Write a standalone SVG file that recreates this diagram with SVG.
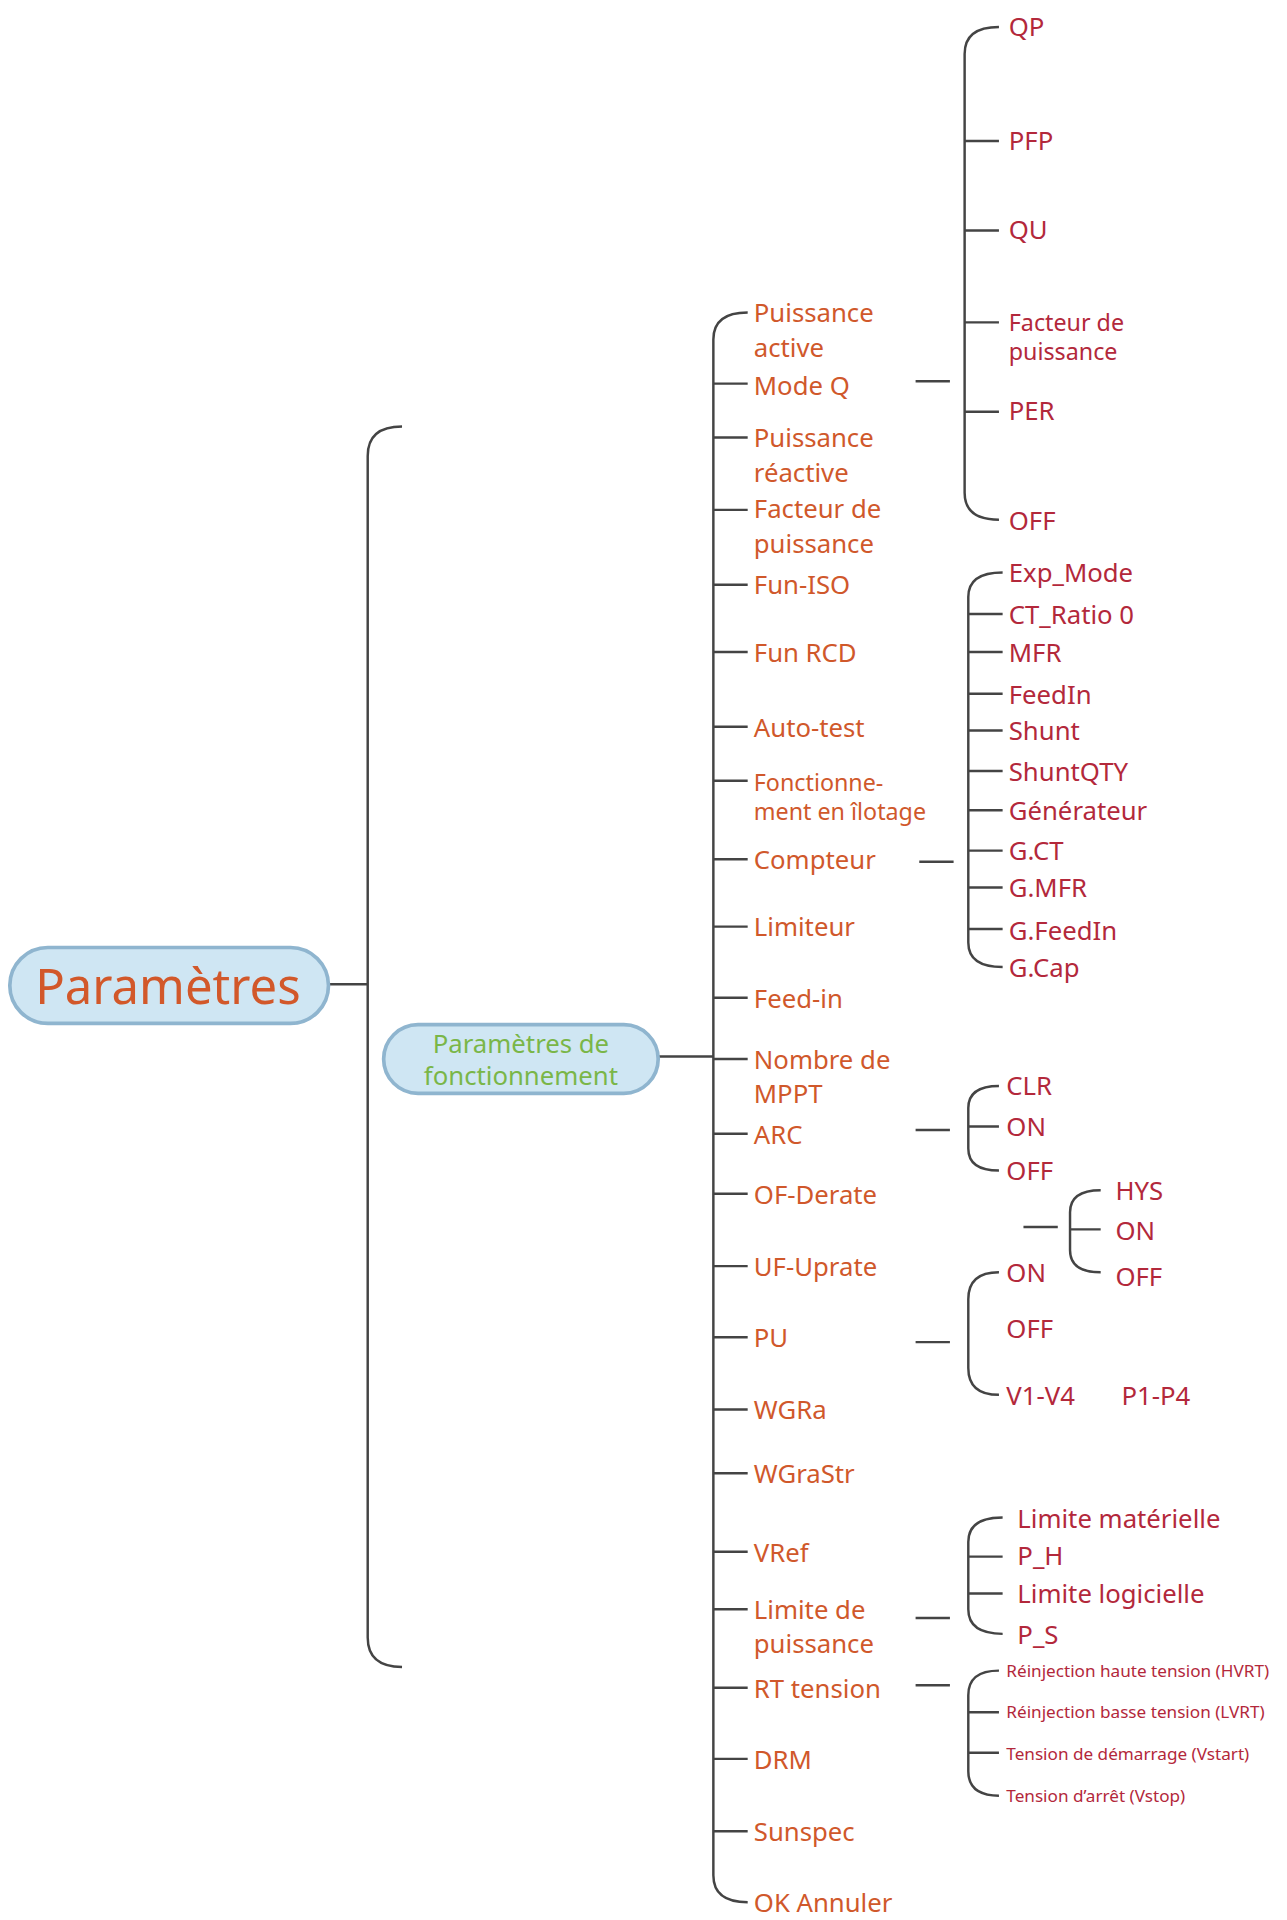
<svg xmlns="http://www.w3.org/2000/svg" width="1287" height="1920" viewBox="0 0 1287 1920">
<style>
.l{fill:none;stroke:#444;stroke-width:2}
.a{font-family:"Noto Sans",sans-serif;font-size:21px;fill:#d0582b}
.b{font-family:"Noto Sans",sans-serif;font-size:21px;fill:#b3283b}
.t{font-size:19px}
.s{font-family:"Noto Sans",sans-serif;font-size:14px;fill:#b3283b}
</style>
<rect width="1287" height="1920" fill="#fff"/>
<g transform="scale(1.2257)">
<g id="connectors">
<path class="l" d="M268 803H300M328 348Q300 348 300 372V1336Q300 1360 328 1360"/>
<path class="l" d="M537 862H582M610 255Q582 255 582 277V1530Q582 1552 610 1552"/>
<path class="l" d="M582 313H610M582 357H610M582 416H610M582 477H610M582 532H610M582 593H610M582 637H610M582 701H610M582 756H610M582 814H610M582 864H610M582 925H610M582 974H610M582 1033H610M582 1091H610M582 1150H610M582 1202H610M582 1266H610M582 1313H610M582 1377H610M582 1435H610M582 1494H610"/>
<path class="l" d="M747 311H775M815 22Q787 22 787 44V402Q787 424 815 424M787 115H815M787 188H815M787 263H815M787 336H815"/>
<path class="l" d="M750 703H778M818 467Q790 467 790 487V769Q790 789 818 789M790 501H818M790 532H818M790 566H818M790 596H818M790 629H818M790 661H818M790 694H818M790 724H818M790 758H818"/>
<path class="l" d="M747 922H775M815 886Q790 886 790 904V937Q790 955 815 955M790 919H815"/>
<path class="l" d="M835 1001H863M898 971Q873 971 873 989V1020Q873 1038 898 1038M873 1003H898"/>
<path class="l" d="M747 1095H775M815 1038Q790 1038 790 1060V1116Q790 1138 815 1138"/>
<path class="l" d="M747 1320H775M818 1238Q790 1238 790 1258V1313Q790 1333 818 1333M790 1270H818M790 1300H818"/>
<path class="l" d="M747 1375H775M815 1363Q790 1363 790 1383V1445Q790 1465 815 1465M790 1397H815M790 1430H815"/>
</g>
<g id="root"><rect x="8" y="773" width="260" height="62" rx="31" fill="#cfe6f3" stroke="#8fb5cf" stroke-width="3"/><text x="137" y="819" text-anchor="middle" font-family="Noto Sans,sans-serif" font-size="40" fill="#d2582a">Paramètres</text></g>
<g id="fonct"><rect x="313" y="836" width="224" height="56" rx="28" fill="#cfe6f3" stroke="#8fb5cf" stroke-width="3"/><text x="425" y="859" text-anchor="middle" font-family="Noto Sans,sans-serif" font-size="21" fill="#7ab648">Paramètres de</text><text x="425" y="885" text-anchor="middle" font-family="Noto Sans,sans-serif" font-size="21" fill="#7ab648">fonctionnement</text></g>
<g id="items">
<text class="a" x="615" y="263">Puissance</text><text class="a" x="615" y="291">active</text>
<text class="a" x="615" y="322">Mode Q</text>
<text class="a" x="615" y="365">Puissance</text><text class="a" x="615" y="393">réactive</text>
<text class="a" x="615" y="423">Facteur de</text><text class="a" x="615" y="451">puissance</text>
<text class="a" x="615" y="485">Fun-ISO</text>
<text class="a" x="615" y="540">Fun RCD</text>
<text class="a" x="615" y="601">Auto-test</text>
<text class="a t" x="615" y="645">Fonctionne-</text><text class="a t" x="615" y="669">ment en îlotage</text>
<text class="a" x="615" y="709">Compteur</text>
<text class="a" x="615" y="764">Limiteur</text>
<text class="a" x="615" y="822">Feed-in</text>
<text class="a" x="615" y="872">Nombre de</text><text class="a" x="615" y="900">MPPT</text>
<text class="a" x="615" y="933">ARC</text>
<text class="a" x="615" y="982">OF-Derate</text>
<text class="a" x="615" y="1041">UF-Uprate</text>
<text class="a" x="615" y="1099">PU</text>
<text class="a" x="615" y="1158">WGRa</text>
<text class="a" x="615" y="1210">WGraStr</text>
<text class="a" x="615" y="1274">VRef</text>
<text class="a" x="615" y="1321">Limite de</text><text class="a" x="615" y="1349">puissance</text>
<text class="a" x="615" y="1385">RT tension</text>
<text class="a" x="615" y="1443">DRM</text>
<text class="a" x="615" y="1502">Sunspec</text>
<text class="a" x="615" y="1560">OK Annuler</text>
</g>
<g id="modeq">
<text class="b" x="823" y="29">QP</text><text class="b" x="823" y="122">PFP</text><text class="b" x="823" y="195">QU</text>
<text class="b t" x="823" y="270">Facteur de</text><text class="b t" x="823" y="294">puissance</text><text class="b" x="823" y="343">PER</text><text class="b" x="823" y="432">OFF</text>
</g>
<g id="compteur">
<text class="b" x="823" y="475">Exp_Mode</text><text class="b" x="823" y="509">CT_Ratio 0</text><text class="b" x="823" y="540">MFR</text><text class="b" x="823" y="574">FeedIn</text><text class="b" x="823" y="604">Shunt</text><text class="b" x="823" y="637">ShuntQTY</text><text class="b" x="823" y="669">Générateur</text><text class="b" x="823" y="702">G.CT</text><text class="b" x="823" y="732">G.MFR</text><text class="b" x="823" y="767">G.FeedIn</text><text class="b" x="823" y="797">G.Cap</text>
</g>
<g id="arc"><text class="b" x="821" y="893">CLR</text><text class="b" x="821" y="927">ON</text><text class="b" x="821" y="963">OFF</text></g>
<g id="ofderate"><text class="b" x="910" y="979">HYS</text><text class="b" x="910" y="1012">ON</text><text class="b" x="910" y="1049">OFF</text></g>
<g id="pu"><text class="b" x="821" y="1046">ON</text><text class="b" x="821" y="1092">OFF</text><text class="b" x="821" y="1146">V1-V4</text><text class="b" x="915" y="1146">P1-P4</text></g>
<g id="limite"><text class="b" x="830" y="1247">Limite matérielle</text><text class="b" x="830" y="1277">P_H</text><text class="b" x="830" y="1308">Limite logicielle</text><text class="b" x="830" y="1341">P_S</text></g>
<g id="rt"><text class="s" x="821" y="1368">Réinjection haute tension (HVRT)</text><text class="s" x="821" y="1402">Réinjection basse tension (LVRT)</text><text class="s" x="821" y="1436">Tension de démarrage (Vstart)</text><text class="s" x="821" y="1470">Tension d’arrêt (Vstop)</text></g>
</g>
</svg>
